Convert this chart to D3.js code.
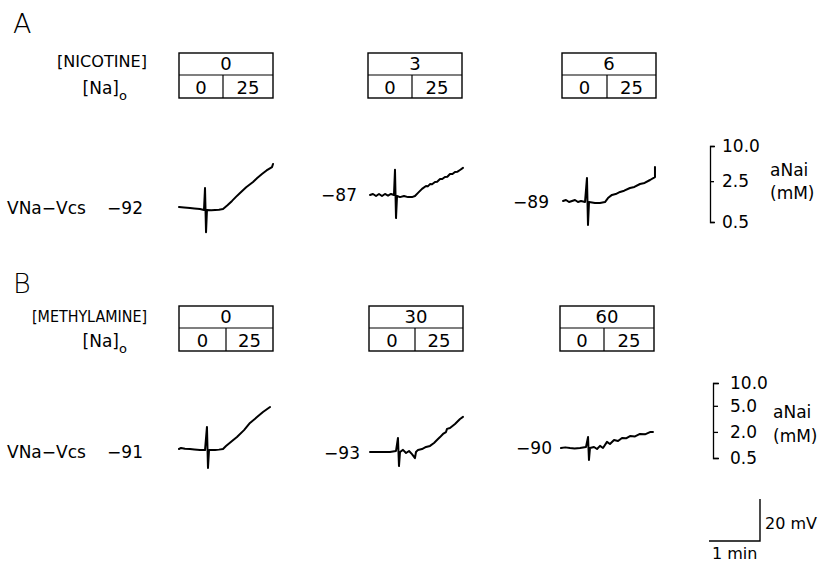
<!DOCTYPE html>
<html><head><meta charset="utf-8">
<script src="https://cdn.jsdelivr.net/npm/d3@7"></script>
<style>
body{margin:0;background:#fff}
svg text{font-family:"DejaVu Sans",sans-serif;fill:#000}
</style>
</head><body>
<svg id="c" width="820" height="562"></svg>
<script>
// ---------- DATA ----------
const nicotine = ["0", "3", "6"];          // [NICOTINE] per column
const methylamine = ["0", "30", "60"];     // [METHYLAMINE] per column
const naSteps = ["0", "25"];               // [Na]o steps
const restA = [-92, -87, -89];             // resting VNa-Vcs (mV), panel A
const restB = [-91, -93, -90];             // resting VNa-Vcs (mV), panel B
// traces: [time (s), VNa-Vcs (mV)]
const traceA1 = [[0,-92],[6,-92.2],[12.9,-92.5],[18,-92.7],[24.7,-93],[29.4,-93.4],[30.6,-83],[31.8,-104],[32.9,-93.4],[38,-93.5],[42.4,-93.4],[47,-93.3],[51.8,-93],[57,-91.2],[62.4,-89.1],[67,-87.2],[71.8,-85.3],[79,-82.6],[87.1,-80.1],[92,-78.2],[97.6,-76.3],[103,-74.6],[109.4,-73],[110.6,-71.5]];
const traceA2 = [[0,-87],[3.5,-86.5],[7.1,-87.5],[10.6,-86.5],[14.1,-87.5],[17.6,-86.5],[21.2,-87.3],[24.7,-86.5],[28.2,-87],[29.4,-75],[30.6,-98],[31.8,-87.5],[35.3,-88],[40,-87.5],[44.7,-88],[49.4,-88],[52.9,-87.5],[56.5,-86],[61.2,-84.1],[65.9,-82.7],[68,-82.9],[70.6,-81.8],[73,-81.9],[76.5,-80.8],[79,-80.7],[82.4,-79.4],[85,-79.4],[88.2,-78.4],[91,-78.3],[94.1,-77],[97,-77],[100,-76],[103,-75.9],[105.9,-75.1],[109.4,-74.1]];
const traceA3 = [[0,-89],[3.5,-88.5],[7.1,-89.5],[10.6,-89],[14.1,-88.5],[17.6,-89.5],[21.2,-89],[25.9,-89.5],[28.2,-78],[29.4,-100.4],[30.6,-89.5],[37.6,-90],[43.5,-90],[49.4,-89.5],[52.9,-87.6],[57.6,-86.1],[62,-85.7],[67.1,-84.7],[72,-84.1],[78.8,-82.8],[84,-82.3],[90.6,-80.9],[96,-80.4],[102.4,-79],[108.2,-77.6],[108.2,-72.8]];
const traceB1 = [[0,-91],[2.4,-90.5],[7,-90.9],[12.9,-91],[18,-91.2],[24.7,-91.5],[30.6,-91.5],[32.9,-80.5],[34.1,-100],[35.3,-91.5],[42.4,-91.5],[47,-91.3],[51.8,-91],[55.3,-89.6],[62.4,-87.2],[68.2,-85.3],[76.5,-82],[83.5,-78.6],[91.8,-75.8],[98.8,-73.4],[107.1,-71]];
const traceB2 = [[0,-93],[11.8,-93],[23.5,-93],[30.6,-92.5],[32.9,-86.3],[34.1,-99.7],[35.3,-93],[38.8,-92],[42.4,-93.5],[45.9,-92.5],[49.4,-94],[52.9,-95.9],[54.1,-93],[56.5,-92],[61.2,-91.6],[65.9,-90.6],[70.6,-90.1],[75.3,-88.7],[78.8,-87.3],[82.4,-85.9],[85.9,-84.4],[89.4,-83.5],[90.6,-82],[94.1,-81.6],[100,-79.7],[105.9,-77.3],[109.4,-76.3]];
const traceB3 = [[0,-90],[5,-89.7],[10.6,-90],[16,-90.2],[22.4,-90],[29.4,-89.5],[31.8,-84.8],[32.9,-95.7],[34.1,-90],[38.8,-89.5],[42.4,-90.5],[45.9,-89],[49.4,-90],[54.1,-87.1],[57.6,-88.1],[62.4,-86.2],[67.1,-86.7],[71.8,-85.2],[76.5,-85.4],[81.2,-84.3],[87.1,-84.5],[92.9,-83.3],[98.8,-83.5],[104.7,-82.4],[108.2,-82.4]];
const aNaiTicksA = [10, 2.5, 0.5];         // mM
const aNaiTicksB = [10, 5, 2, 0.5];        // mM
const barTime = 60;                        // s  (1 min)
const barVolt = 20;                        // mV

// ---------- LAYOUT ----------
const svg = d3.select("#c");
const pxPerMin = 51, pxPer20mV = 42;

const panels = [
  { letter: "A", letterY: 33, drug: "[NICOTINE]", drugW: 90, drugY: 67, naY: 94, vY: 214,
    conc: nicotine, rest: restA, traces: [traceA1, traceA2, traceA3],
    boxX: [179, 368, 562], boxDiv: [44, 44, 45], boxTop: 53, boxMid: 75, boxBot: 98,
    tx0: [179, 370, 563], ty0: [207, 195, 201],
    restX: [143, 357, 549], restY: [214, 201, 208],
    scale: d3.scaleLog().domain([0.5, 10]).range([222, 146]), ticks: aNaiTicksA,
    axisX: 710, inner: 4, outer: 5, pad: 8, unitX: 770, unitY: [176, 199] },
  { letter: "B", letterY: 293, drug: "[METHYLAMINE]", drugW: 115, drugY: 322, naY: 347, vY: 458,
    conc: methylamine, rest: restB, traces: [traceB1, traceB2, traceB3],
    boxX: [179, 369, 560], boxDiv: [47, 46, 44], boxTop: 306, boxMid: 328, boxBot: 351,
    tx0: [179, 370, 561], ty0: [449, 452, 448],
    restX: [143, 360, 552], restY: [458, 459, 454],
    scale: d3.scaleSymlog().constant(1).domain([0.5, 10]).range([458, 383]), ticks: aNaiTicksB,
    axisX: 713, inner: 5, outer: 6, pad: 12, unitX: 773, unitY: [418, 442] }
];
const boxW = 94;

panels.forEach(p => {
  const g = svg.append("g");
  g.append("text").attr("x", 13).attr("y", p.letterY).attr("font-size", 27)
    .style("font-weight", 300).text(p.letter);
  g.append("text").attr("x", 147 - p.drugW).attr("y", p.drugY)
    .attr("font-size", 16).attr("textLength", p.drugW).attr("lengthAdjust", "spacingAndGlyphs").text(p.drug);
  g.append("text").attr("x", 119).attr("y", p.naY).attr("text-anchor", "end")
    .attr("font-size", 17).text("[Na]");
  g.append("text").attr("x", 119).attr("y", p.naY + 6).attr("font-size", 13).text("o");
  g.append("text").attr("x", 7).attr("y", p.vY).attr("font-size", 17).text("VNa\u2212Vcs");

  // boxes
  p.conc.forEach((c, i) => {
    const x = p.boxX[i], bg = g.append("g");
    bg.append("rect").attr("x", x).attr("y", p.boxTop).attr("width", boxW)
      .attr("height", p.boxBot - p.boxTop).attr("fill", "none").attr("stroke", "#000").attr("stroke-width", 1.4);
    bg.append("line").attr("x1", x).attr("x2", x + boxW).attr("y1", p.boxMid).attr("y2", p.boxMid)
      .attr("stroke", "#000").attr("stroke-width", 1.2);
    bg.append("line").attr("x1", x + p.boxDiv[i]).attr("x2", x + p.boxDiv[i]).attr("y1", p.boxMid).attr("y2", p.boxBot)
      .attr("stroke", "#000").attr("stroke-width", 1.2);
    bg.append("text").attr("x", x + boxW / 2).attr("y", p.boxMid - 5).attr("text-anchor", "middle")
      .attr("font-size", 18).text(c);
    bg.append("text").attr("x", x + p.boxDiv[i] / 2).attr("y", p.boxBot - 4).attr("text-anchor", "middle")
      .attr("font-size", 18).text(naSteps[0]);
    bg.append("text").attr("x", x + (p.boxDiv[i] + boxW) / 2).attr("y", p.boxBot - 4).attr("text-anchor", "middle")
      .attr("font-size", 18).text(naSteps[1]);
  });

  // traces
  p.traces.forEach((tr, i) => {
    const xs = d3.scaleLinear().domain([0, barTime]).range([p.tx0[i], p.tx0[i] + pxPerMin]);
    const ys = d3.scaleLinear().domain([p.rest[i], p.rest[i] + barVolt]).range([p.ty0[i], p.ty0[i] - pxPer20mV]);
    const line = d3.line().x(d => xs(d[0])).y(d => ys(d[1]));
    g.append("path").datum(tr).attr("d", line).attr("fill", "none").attr("stroke", "#000")
      .attr("stroke-width", 2).attr("stroke-linejoin", "round").attr("stroke-linecap", "round");
    g.append("text").attr("x", p.restX[i]).attr("y", p.restY[i]).attr("text-anchor", "end")
      .attr("font-size", 17).text(d3.format("")(p.rest[i]).replace("-", "\u2212"));
  });

  // aNai axis
  const ax = g.append("g").attr("transform", `translate(${p.axisX},0)`)
    .call(d3.axisRight(p.scale).tickValues(p.ticks).tickFormat(d3.format(".1f"))
      .tickSizeInner(p.inner).tickSizeOuter(p.outer).tickPadding(p.pad));
  ax.selectAll("path,line").attr("stroke", "#000").attr("stroke-width", 1.3);
  ax.selectAll("text").attr("font-size", 17).attr("fill", "#000").style("font-family", '"DejaVu Sans",sans-serif');
  g.append("text").attr("x", p.unitX).attr("y", p.unitY[0]).attr("font-size", 17).text("aNai");
  g.append("text").attr("x", p.unitX).attr("y", p.unitY[1]).attr("font-size", 17).text("(mM)");
});

// scale bar
const sbx = d3.scaleLinear().domain([0, barTime]).range([709, 709 + pxPerMin]);
const sby = d3.scaleLinear().domain([0, barVolt]).range([541, 541 - pxPer20mV]);
svg.append("path")
  .attr("d", `M${sbx(0)},${sby(0)}H${sbx(barTime)}V${sby(barVolt)}`)
  .attr("fill", "none").attr("stroke", "#000").attr("stroke-width", 1.4);
svg.append("text").attr("x", sbx(barTime) + 5).attr("y", 529).attr("font-size", 16).text(barVolt + " mV");
svg.append("text").attr("x", sbx(0) + 3).attr("y", 559).attr("font-size", 16).text(barTime / 60 + " min");
</script>
</body></html>
